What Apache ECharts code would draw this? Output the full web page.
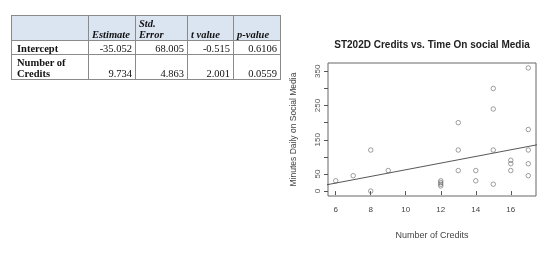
<!DOCTYPE html>
<html>
<head>
<meta charset="utf-8">
<script src="https://cdn.jsdelivr.net/npm/echarts@6/dist/echarts.min.js"></script>
<style>
  html, body { margin:0; padding:0; background:#fff; }
  #wrap { position:relative; width:560px; height:259px; overflow:hidden; }
  #chart { position:absolute; left:0; top:0; width:560px; height:259px; }
  #tbl { position:absolute; left:11px; top:15px; border-collapse:collapse;
         font-family:"Liberation Serif","Times New Roman",serif; font-size:10.5px; color:#111; }
  #tbl td { border:1px solid #8a8a8a; padding:0 3px 0 5px; vertical-align:bottom; line-height:11px; }
  #tbl tr.h td { background:#dbe5f1; font-weight:bold; font-style:italic; text-align:left; padding-left:3px; }
  #tbl td.lab { font-weight:bold; text-align:left; }
  #tbl td.num { text-align:right; }
</style>
</head>
<body>
<div id="wrap">
<div id="chart"></div>
<table id="tbl"></table>
</div>
<script>
// ---- data ----
const tableHeaders = ["", "Estimate", "Std.<br>Error", "t value", "p-value"];
const rowLabels = ["Intercept", "Number of<br>Credits"];
const estimates = ["-35.052", "9.734"];
const stdErrors = ["68.005", "4.863"];
const tValues = ["-0.515", "2.001"];
const pValues = ["0.6106", "0.0559"];

const credits = [6, 7, 8, 8, 9, 12, 12, 12, 12, 13, 13, 13, 14, 14, 15, 15, 15, 15, 16, 16, 16, 17, 17, 17, 17, 17];
const minutes = [30, 45, 120, 0, 60, 30, 25, 20, 15, 200, 120, 60, 60, 30, 300, 240, 120, 20, 90, 80, 60, 360, 180, 120, 80, 45];

const intercept = -35.052;
const slope = 9.734;
const lineX = [5.4, 17.6];

const xTicks = [6, 8, 10, 12, 14, 16];
const yTicks = [0, 50, 100, 150, 200, 250, 300, 350];
const yTickLabels = [0, 50, 150, 250, 350];

// ---- table ----
const colW = [77, 47, 52, 46, 47];
const rowH = [25, 14, 25];
let html = '<tr class="h" style="height:' + rowH[0] + 'px">';
tableHeaders.forEach((h, i) => { html += '<td style="width:' + (colW[i] - 7) + 'px">' + h + '</td>'; });
html += '</tr>';
rowLabels.forEach((r, i) => {
  html += '<tr style="height:' + rowH[i + 1] + 'px"><td class="lab">' + r + '</td>' +
    '<td class="num">' + estimates[i] + '</td><td class="num">' + stdErrors[i] + '</td>' +
    '<td class="num">' + tValues[i] + '</td><td class="num">' + pValues[i] + '</td></tr>';
});
document.getElementById('tbl').innerHTML = html;

// ---- chart ----
const chart = echarts.init(document.getElementById('chart'), null, { renderer: 'canvas' });
const pts = credits.map((c, i) => [c, minutes[i]]);
const fit = lineX.map(x => [x, intercept + slope * x]);
const axisCol = '#555';
chart.setOption({
  animation: false,
  graphic: [{
    type: 'text', x: 432, y: 45,
    style: { text: 'ST202D Credits vs. Time On social Media', fontFamily: 'Liberation Sans, Arial, sans-serif',
             fontWeight: 'bold', fontSize: 10, fill: '#222', align: 'center', verticalAlign: 'middle' }
  }],
  grid: { left: 328, top: 63, width: 208, height: 133, show: true, borderColor: '#666', borderWidth: 1, containLabel: false },
  xAxis: {
    type: 'value', min: 5.56, max: 17.44,
    name: 'Number of Credits', nameLocation: 'middle', nameGap: 35,
    nameTextStyle: { fontFamily: 'Liberation Sans, Arial', fontSize: 9, color: '#444' },
    axisLine: { show: false },
    splitLine: { show: false },
    axisTick: { show: true, length: 4, inside: false, customValues: xTicks, lineStyle: { color: axisCol } },
    axisLabel: { customValues: xTicks, fontFamily: 'Liberation Sans, Arial', fontSize: 8, color: '#444', margin: 10 }
  },
  yAxis: {
    type: 'value', min: -14.4, max: 374.4,
    name: 'Minutes Daily on Social Media', nameLocation: 'middle', nameGap: 30,
    nameTextStyle: { fontFamily: 'Liberation Sans, Arial', fontSize: 8.5, color: '#444' },
    axisLine: { show: false },
    splitLine: { show: false },
    axisTick: { show: true, length: 4, inside: false, customValues: yTicks, lineStyle: { color: axisCol } },
    axisLabel: { customValues: yTickLabels, rotate: 90, fontFamily: 'Liberation Sans, Arial', fontSize: 8, color: '#555', margin: 6 }
  },
  series: [
    {
      type: 'scatter', data: pts, symbol: 'circle', symbolSize: 4.5,
      itemStyle: { color: 'rgba(255,255,255,0)', borderColor: '#555', borderWidth: 0.7 }
    },
    {
      type: 'line', data: fit, symbol: 'none', clip: true,
      lineStyle: { color: '#444', width: 0.9 }
    }
  ]
});
</script>
</body>
</html>
